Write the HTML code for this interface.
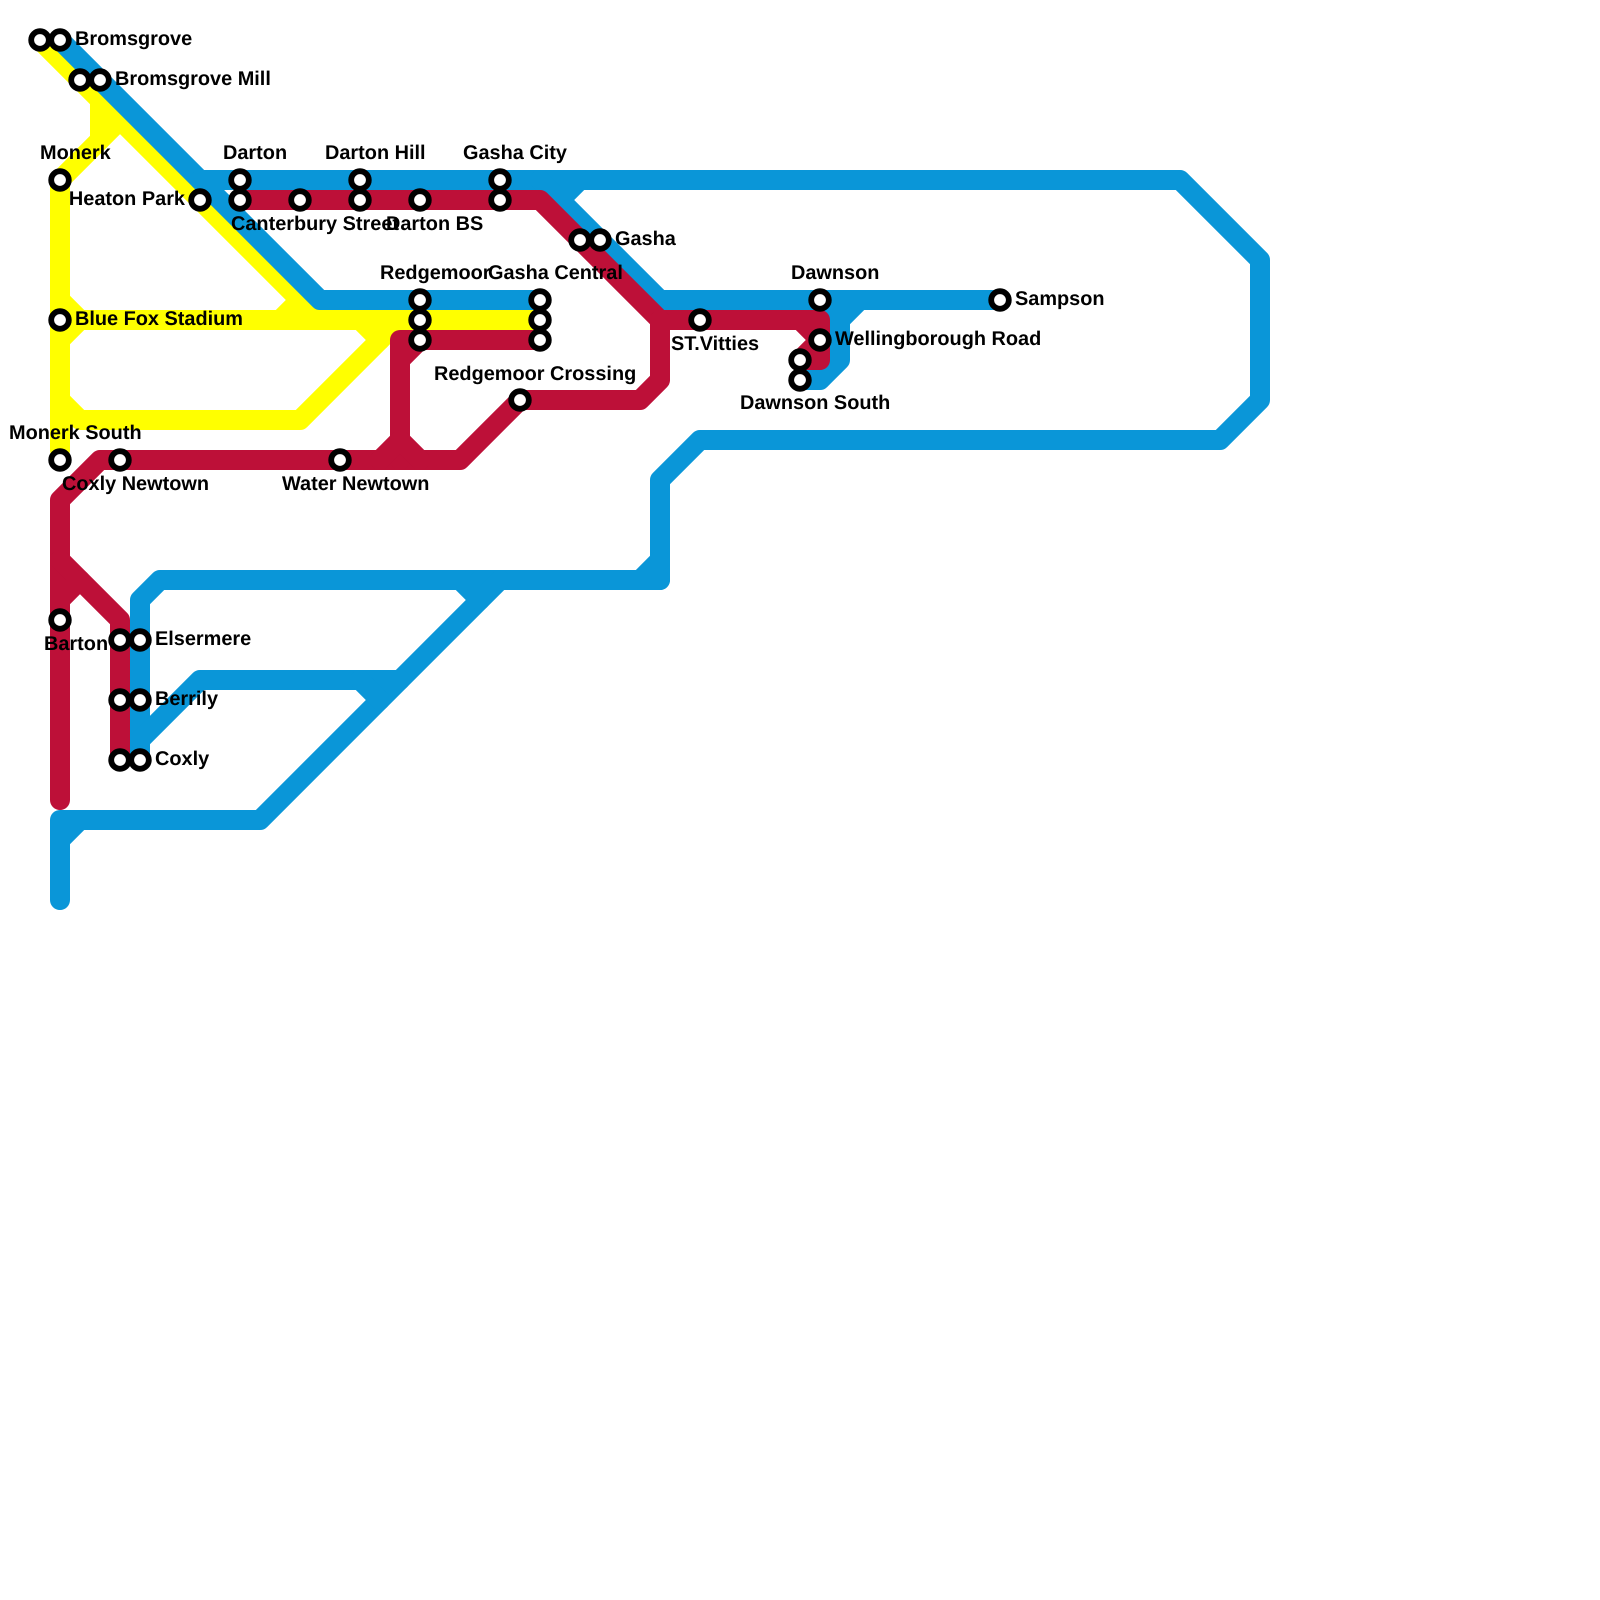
<!DOCTYPE html>
<html><head><meta charset="utf-8"><style>
html,body{margin:0;padding:0;background:#fff}
svg{display:block}
text{font-family:"Liberation Sans",sans-serif;font-weight:bold;font-size:19.9px;fill:#000;text-rendering:geometricPrecision}
.l{fill:none;stroke-width:20;stroke-linecap:round;stroke-linejoin:round}
.y{stroke:#ffff00}.b{stroke:#0a96d8}.r{stroke:#bd1038}
circle{fill:#fff;stroke:#000;stroke-width:5.8}
</style></head><body>
<svg width="1600" height="1600" viewBox="0 0 1600 1600" xmlns="http://www.w3.org/2000/svg">
<rect width="1600" height="1600" fill="#fff"/>
<g class="l y">
<path d="M40 40L320 320H540"/>
<path d="M60 180V450"/>
<path d="M60 180L120 120"/>
<path d="M100 140V100"/>
<path d="M60 320H320"/>
<path d="M60 300L80 320L60 340"/>
<path d="M280 320L300 300"/>
<path d="M60 400L80 420H300L400 320"/>
<path d="M360 320L380 340"/>
</g>
<g class="l b">
<path d="M60 40L320 300H540"/>
<path d="M200 180H1180L1260 260V400L1220 440H700L660 480V580H160L140 600V760"/>
<path d="M540 180L660 300H1000"/>
<path d="M560 200L580 180"/>
<path d="M860 300L840 320V360L820 380H800"/>
<path d="M820 300L840 320"/>
<path d="M640 580L660 560"/>
<path d="M660 580H480"/>
<path d="M60 900V820H260L500 580"/>
<path d="M60 840L80 820"/>
<path d="M460 580L480 600"/>
<path d="M140 740L200 680H400"/>
<path d="M360 680L380 700"/>
</g>
<g class="l r">
<path d="M240 200H540L660 320H820V360H800"/>
<path d="M800 320L820 340L800 360"/>
<path d="M60 800V500L100 460H460L520 400H640L660 380V320"/>
<path d="M540 340H400V460"/>
<path d="M400 360L420 340"/>
<path d="M380 460L400 440L420 460"/>
<path d="M60 560L120 620V760"/>
<path d="M60 600L80 580"/>
</g>
<g>
<circle cx="40" cy="40" r="8.8"/><circle cx="60" cy="40" r="8.8"/>
<circle cx="80" cy="80" r="8.8"/><circle cx="100" cy="80" r="8.8"/>
<circle cx="60" cy="180" r="8.8"/><circle cx="200" cy="200" r="8.8"/>
<circle cx="240" cy="180" r="8.8"/><circle cx="240" cy="200" r="8.8"/>
<circle cx="300" cy="200" r="8.8"/>
<circle cx="360" cy="180" r="8.8"/><circle cx="360" cy="200" r="8.8"/>
<circle cx="420" cy="200" r="8.8"/>
<circle cx="500" cy="180" r="8.8"/><circle cx="500" cy="200" r="8.8"/>
<circle cx="60" cy="320" r="8.8"/>
<circle cx="420" cy="300" r="8.8"/><circle cx="420" cy="320" r="8.8"/><circle cx="420" cy="340" r="8.8"/>
<circle cx="540" cy="300" r="8.8"/><circle cx="540" cy="320" r="8.8"/><circle cx="540" cy="340" r="8.8"/>
<circle cx="580" cy="240" r="8.8"/><circle cx="600" cy="240" r="8.8"/>
<circle cx="700" cy="320" r="8.8"/>
<circle cx="820" cy="300" r="8.8"/><circle cx="820" cy="340" r="8.8"/>
<circle cx="800" cy="360" r="8.8"/><circle cx="800" cy="380" r="8.8"/>
<circle cx="1000" cy="300" r="8.8"/>
<circle cx="520" cy="400" r="8.8"/>
<circle cx="60" cy="460" r="8.8"/><circle cx="120" cy="460" r="8.8"/><circle cx="340" cy="460" r="8.8"/>
<circle cx="60" cy="620" r="8.8"/>
<circle cx="120" cy="640" r="8.8"/><circle cx="140" cy="640" r="8.8"/>
<circle cx="120" cy="700" r="8.8"/><circle cx="140" cy="700" r="8.8"/>
<circle cx="120" cy="760" r="8.8"/><circle cx="140" cy="760" r="8.8"/>
</g>
<g>
<text x="75" y="45">Bromsgrove</text>
<text x="115" y="85">Bromsgrove Mill</text>
<text x="40" y="159">Monerk</text>
<text x="223" y="159">Darton</text>
<text x="325" y="159">Darton Hill</text>
<text x="463" y="159">Gasha City</text>
<text x="185" y="205" text-anchor="end">Heaton Park</text>
<text x="231" y="230">Canterbury Street</text>
<text x="386" y="230">Darton BS</text>
<text x="380" y="279">Redgemoor</text>
<text x="488" y="279">Gasha Central</text>
<text x="75" y="325">Blue Fox Stadium</text>
<text x="9" y="439">Monerk South</text>
<text x="62" y="490">Coxly Newtown</text>
<text x="282" y="490">Water Newtown</text>
<text x="44" y="650">Barton</text>
<text x="155" y="645">Elsermere</text>
<text x="155" y="705">Berrily</text>
<text x="155" y="765">Coxly</text>
<text x="434" y="380">Redgemoor Crossing</text>
<text x="615" y="245">Gasha</text>
<text x="671" y="350">ST.Vitties</text>
<text x="791" y="279">Dawnson</text>
<text x="1015" y="305">Sampson</text>
<text x="835" y="345">Wellingborough Road</text>
<text x="740" y="409">Dawnson South</text>
</g>
</svg>
</body></html>
